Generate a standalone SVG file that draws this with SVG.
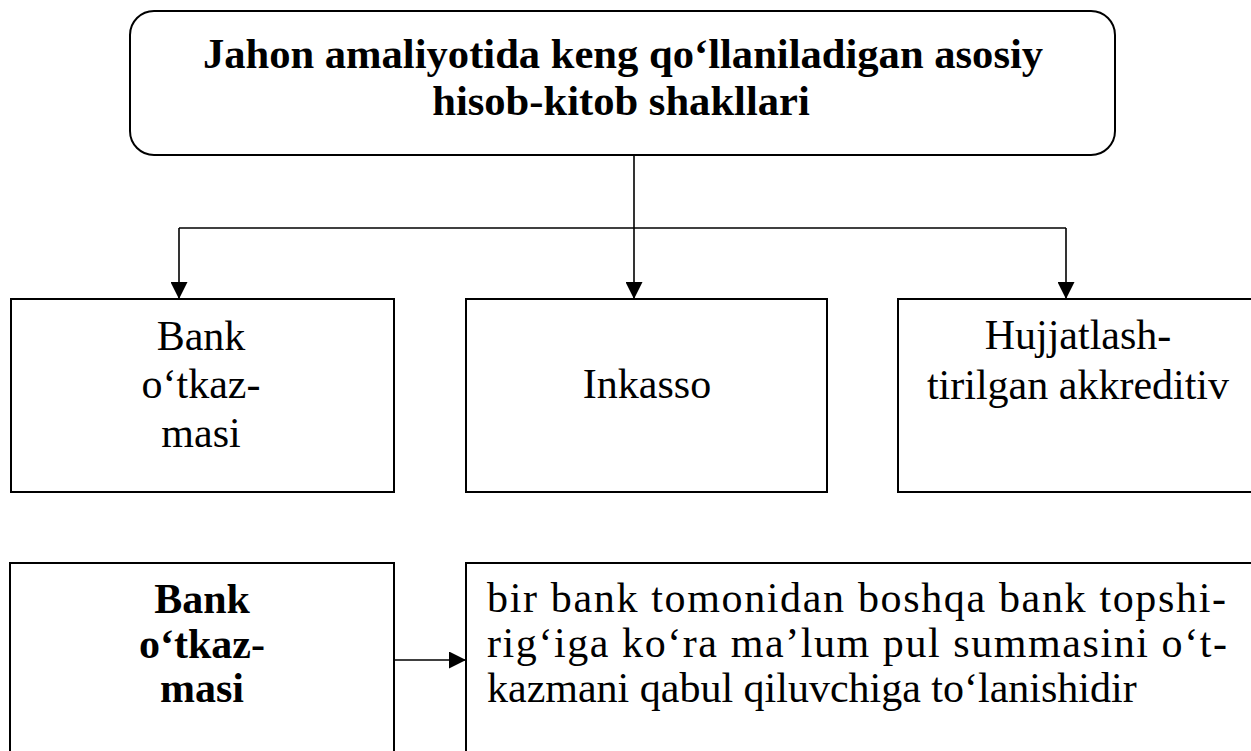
<svg xmlns="http://www.w3.org/2000/svg" width="1251" height="751" viewBox="0 0 1251 751">
<style>
  .box { fill: #ffffff; stroke: #000000; stroke-width: 2; }
  .conn { fill: none; stroke: #000000; stroke-width: 1.6; }
  text { font-family: "Liberation Serif", "Times New Roman", serif; font-size: 42px; fill: #000000; }
  .b { font-weight: bold; }
  .c { text-anchor: middle; }
  .t { font-size: 42.6px; }
</style>
<defs>
  <marker id="arr" markerUnits="userSpaceOnUse" markerWidth="17" markerHeight="17" viewBox="0 0 17 17" refX="17" refY="8.5" orient="auto">
    <path d="M0,0 L17,8.5 L0,17 Z" fill="#000000"/>
  </marker>
</defs>
<rect width="1251" height="751" fill="#ffffff"/>

<g id="connectors">
  <path class="conn" d="M634,155 L634,299" marker-end="url(#arr)"/>
  <path class="conn" d="M179,228 L1066,228"/>
  <path class="conn" d="M179,228 L179,299" marker-end="url(#arr)"/>
  <path class="conn" d="M1066,228 L1066,299" marker-end="url(#arr)"/>
  <path class="conn" d="M394,660 L466,660" marker-end="url(#arr)"/>
</g>

<g id="title">
  <rect class="box" x="130" y="11" width="985" height="144" rx="24" ry="24"/>
  <text class="b c t" x="623" y="68">Jahon amaliyotida keng qo‘llaniladigan asosiy</text>
  <text class="b c t" x="621" y="115">hisob-kitob shakllari</text>
</g>

<g id="bank">
  <rect class="box" x="11" y="299" width="383" height="193"/>
  <text class="c" x="201" y="350">Bank</text>
  <text class="c" x="201" y="398">o‘tkaz-</text>
  <text class="c" x="201" y="447">masi</text>
</g>

<g id="inkasso">
  <rect class="box" x="466" y="299" width="361" height="193"/>
  <text class="c" x="647" y="398">Inkasso</text>
</g>

<g id="akkreditiv">
  <rect class="box" x="898" y="299" width="370" height="193"/>
  <text class="c" x="1078" y="349">Hujjatlash-</text>
  <text class="c" x="1078" y="399">tirilgan akkreditiv</text>
</g>

<g id="bank-def">
  <rect class="box" x="10" y="563" width="384" height="220"/>
  <text class="b c" x="202" y="613">Bank</text>
  <text class="b c" x="202" y="658">o‘tkaz-</text>
  <text class="b c" x="202" y="702">masi</text>
</g>

<g id="definition">
  <rect class="box" x="466" y="563" width="820" height="220"/>
  <text x="487" y="612" textLength="739" lengthAdjust="spacing">bir bank tomonidan boshqa bank topshi-</text>
  <text x="487" y="657" textLength="740" lengthAdjust="spacing">rig‘iga ko‘ra ma’lum pul summasini o‘t-</text>
  <text x="487" y="702">kazmani qabul qiluvchiga to‘lanishidir</text>
</g>
</svg>
